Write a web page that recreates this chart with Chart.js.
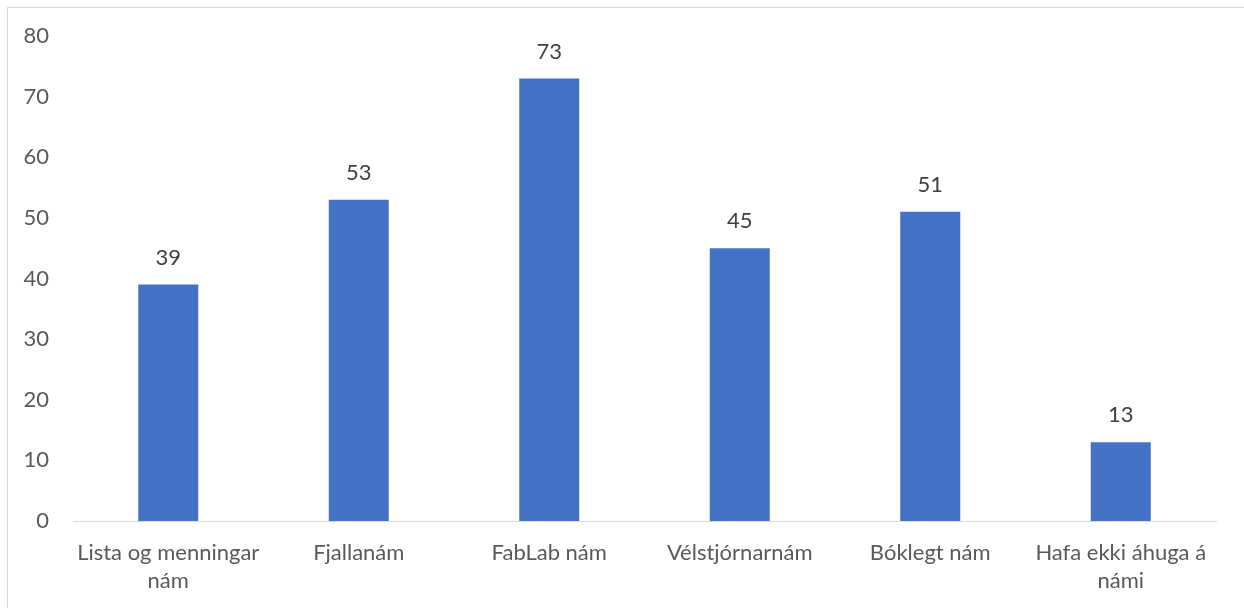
<!DOCTYPE html>
<html>
<head>
<meta charset="utf-8">
<script src="https://cdn.jsdelivr.net/npm/chart.js@4.4.1/dist/chart.umd.min.js"></script>
<style>
  body { margin: 0; background: #fff; }
  #frame { position: absolute; left: 7px; top: 7px; width: 1236px; height: 610px; border: 1px solid #d9d9d9; }
  #wrap { position: absolute; left: 1px; top: 1px; width: 1235px; height: 600px; }
</style>
</head>
<body>
<div id="frame"><div id="wrap"><canvas id="chart"></canvas></div></div>
<script>
const categories = [
  ['Lista og menningar', 'nám'],
  'Fjallanám',
  'FabLab nám',
  'Vélstjórnarnám',
  'Bóklegt nám',
  ['Hafa ekki áhuga á', 'námi']
];
const values = [39, 53, 73, 45, 51, 13];
const yMax = 80;
const yStep = 10;

const fontFamily = 'Lato, "Open Sans", sans-serif';

// draws the value above each bar
const barLabels = {
  id: 'barLabels',
  afterDatasetsDraw(chart) {
    const ctx = chart.ctx;
    ctx.save();
    ctx.font = '22px ' + fontFamily;
    ctx.fillStyle = '#404040';
    ctx.textAlign = 'center';
    ctx.textBaseline = 'middle';
    chart.getDatasetMeta(0).data.forEach((bar, i) => {
      ctx.fillText(chart.data.datasets[0].data[i], bar.x, bar.y - 27);
    });
    ctx.restore();
  }
};

new Chart(document.getElementById('chart'), {
  type: 'bar',
  data: {
    labels: categories,
    datasets: [{
      data: values,
      backgroundColor: '#4472c4',
      barPercentage: 0.315,
      categoryPercentage: 1
    }]
  },
  options: {
    responsive: true,
    maintainAspectRatio: false,
    animation: false,
    layout: { padding: { top: 27, right: 28, bottom: 0, left: 0 } },
    plugins: { legend: { display: false }, tooltip: { enabled: false } },
    scales: {
      x: {
        grid: { display: false, drawTicks: false },
        border: { display: true, color: '#d9d9d9', width: 1 },
        ticks: { color: '#595959', font: { family: fontFamily, size: 22, lineHeight: 1.27 }, padding: 18, maxRotation: 0 },
        afterFit: s => { s.height = 88; s.paddingLeft = 0; s.paddingRight = 0; }
      },
      y: {
        min: 0,
        max: yMax,
        grid: { display: false, drawTicks: false },
        border: { display: false },
        ticks: { stepSize: yStep, color: '#595959', font: { family: fontFamily, size: 22 }, padding: 24 },
        afterFit: s => { s.width = 64; s.paddingTop = 0; s.paddingBottom = 0; }
      }
    }
  },
  plugins: [barLabels]
});
</script>
</body>
</html>
